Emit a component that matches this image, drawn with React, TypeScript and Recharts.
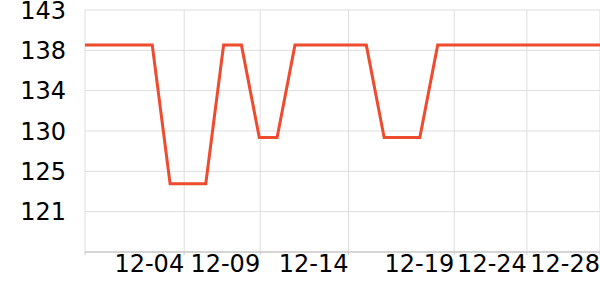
import React from 'react';
import { LineChart, Line, XAxis, YAxis, CartesianGrid } from 'recharts';

// day of December (0 = 11-30, -1 = 11-29)
const days = [-1, 0, 1, 2, 3, 4, 5, 6, 7, 8, 9, 10, 11, 12, 13, 14, 15, 16, 17, 18, 19, 20, 21, 22, 23, 24, 25, 26, 27, 28, 29];
const prices = [139, 139, 139, 139, 139, 124, 124, 124, 139, 139, 129, 129, 139, 139, 139, 139, 139, 129, 129, 129, 139, 139, 139, 139, 139, 139, 139, 139, 139, 139, 139];

const xTicks = [-0.77, 4.79, 9.05, 14, 19.93, 24, 28.1];
const xTickLabels = ['', '12-04', '12-09', '12-14', '12-19', '12-24', '12-28'];
const xDomain = [-0.77, 28.1];

const yTicks = [116.6, 120.97, 125.33, 129.7, 134.07, 138.43, 142.8];
const yTickLabels = ['', '121', '125', '130', '134', '138', '143'];
const yDomain = [116.6, 142.8];

const data = days.map((d, i) => ({ day: d, price: prices[i] }));

const XTick = (props: any) => {
  const { x, y, payload, index } = props;
  const label = xTickLabels[xTicks.indexOf(payload.value)] ?? '';
  return (
    <text x={x} y={y} dy={17} textAnchor="end" fill="#000" fontSize={24} fontFamily="DejaVu Sans">
      {label}
    </text>
  );
};

const YTick = (props: any) => {
  const { x, y, payload } = props;
  const label = yTickLabels[yTicks.indexOf(payload.value)] ?? '';
  return (
    <text x={x} y={y} dy={8.5} textAnchor="end" fill="#000" fontSize={24} fontFamily="DejaVu Sans">
      {label}
    </text>
  );
};

export default function App() {
  return (
    <div style={{ position: 'absolute', left: 0, top: 0, fontFamily: 'DejaVu Sans' }}>
      <LineChart width={600} height={300} data={data} margin={{ top: 10, right: 0, bottom: 0, left: 0 }}>
        <CartesianGrid stroke="#dddddd" strokeWidth={1} />
        <XAxis
          dataKey="day"
          type="number"
          domain={xDomain}
          ticks={xTicks}
          interval={0}
          allowDataOverflow
          height={48}
          axisLine={{ stroke: '#bbbbbb' }}
          tickLine={{ stroke: '#cccccc' }}
          tickSize={3}
          tickMargin={0}
          tick={<XTick />}
        />
        <YAxis
          type="number"
          domain={yDomain}
          ticks={yTicks}
          interval={0}
          allowDataOverflow
          width={85}
          axisLine={false}
          tickLine={false}
          tickSize={6}
          tickMargin={13}
          tick={<YTick />}
        />
        <Line
          type="linear"
          dataKey="price"
          stroke="#ee4b2f"
          strokeWidth={3}
          dot={false}
          activeDot={false}
          isAnimationActive={false}
        />
      </LineChart>
    </div>
  );
}
